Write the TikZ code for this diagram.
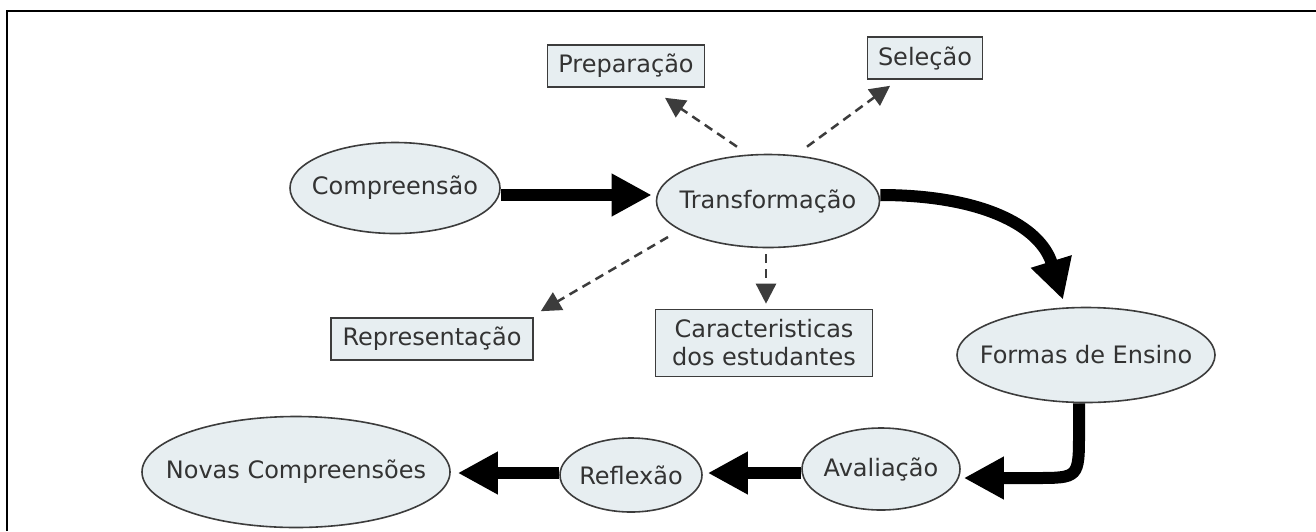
\documentclass[tikz,border=0pt]{standalone}
\usepackage{fontspec}
\setmainfont{DejaVu Sans}
\usetikzlibrary{shapes.geometric,arrows.meta,calc}
\definecolor{fillc}{HTML}{E7EEF1}
\definecolor{linec}{HTML}{3C3C3C}
\definecolor{textc}{HTML}{333333}
\newcommand{\ctext}[1]{\makebox[0pt][c]{#1}}
\begin{document}
\begin{tikzpicture}[x=1pt,y=-1pt,
  ell/.style={ellipse,draw=linec,line width=1.6pt,fill=fillc,text=textc,inner sep=0pt,font=\fontsize{24}{28}\selectfont},
  bx/.style={rectangle,draw=linec,line width=1.6pt,fill=fillc,text=textc,inner sep=0pt,align=center,font=\fontsize{24}{28}\selectfont},
  big/.style={draw=black,line width=12pt,-{Triangle[length=40pt,width=40pt]}},
  dsh/.style={draw=linec,line width=2.5pt,dash pattern=on 9pt off 6pt,-{Triangle[length=20pt,width=20pt]}}]
\useasboundingbox (0,0) rectangle (1316,531);
\fill[white] (0,0) rectangle (1316,531);
\draw[line width=2.5pt] (7,531) -- (7,11) -- (1316,11);

\node[ell,minimum width=210pt,minimum height=91pt] (comp) at (395,188) {\ctext{Compreensão}};
\node[ell,minimum width=223pt,minimum height=93pt] (trans) at (768,201) {\ctext{Transformação}};
\node[ell,minimum width=258pt,minimum height=95pt] (formas) at (1086,355) {\ctext{Formas de Ensino}};
\node[ell,minimum width=158pt,minimum height=82pt] (aval) at (881,469) {\ctext{Avaliação}};
\node[ell,minimum width=142pt,minimum height=74pt] (refl) at (631,475) {\ctext{Reflexão}};
\node[ell,minimum width=308pt,minimum height=111pt] (novas) at (296,472) {\ctext{Novas Compreensões}};

\node[bx,minimum width=157pt,minimum height=42pt] (prep) at (626,66) {Preparação};
\node[bx,minimum width=115pt,minimum height=42pt] (sel) at (925,58) {Seleção};
\node[bx,minimum width=202pt,minimum height=42pt] (repr) at (432,339) {Representação};
\node[bx,minimum width=217pt,minimum height=67pt] (car) at (764,343) {Caracteristicas\\dos estudantes};

\draw[big] ([yshift=-7pt]comp.east) -- ([xshift=-4pt,yshift=6pt]trans.west);
\draw[big] ([yshift=6pt]trans.east) .. controls (980,195) and (1040,225) .. ([xshift=-23pt,yshift=7pt]formas.north);
\draw[big] ([xshift=-7pt]formas.south) -- (1079,432) .. controls (1079,478) .. (1035,478) -- ([xshift=3pt,yshift=-9pt]aval.east);
\draw[big] ([yshift=-4pt]aval.west) -- ([xshift=5pt,yshift=2pt]refl.east);
\draw[big] ([yshift=2pt]refl.west) -- ([xshift=7pt,yshift=-1pt]novas.east);

\draw[dsh] ([shift={(-31,-7)}]trans.north) -- ([shift={(39,10)}]prep.south);
\draw[dsh] ([shift={(39,-7)}]trans.north) -- ([shift={(-35,6)}]sel.south);
\draw[dsh] ([shift={(-100,36)}]trans.center) -- ([shift={(7,-6)}]repr.north east);
\draw[dsh] ([shift={(-2,6)}]trans.south) -- ([shift={(2,-5)}]car.north);
\end{tikzpicture}
\end{document}
